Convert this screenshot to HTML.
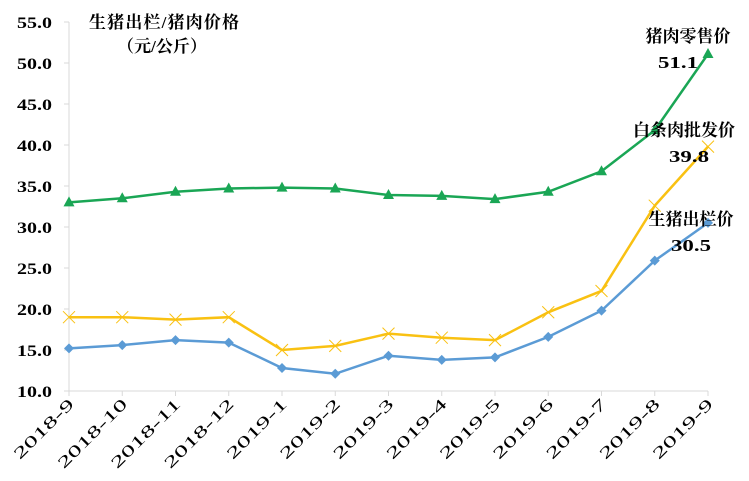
<!DOCTYPE html>
<html><head><meta charset="utf-8">
<style>
body{margin:0;background:#fff;}
svg text{font-family:"Liberation Serif","Noto Serif CJK SC",serif;font-weight:bold;fill:#000;}
</style></head>
<body>
<svg id="chart" width="749" height="476" xmlns="http://www.w3.org/2000/svg">
<g id="axes"></g>
<g id="series"></g>
<text x="164" y="28" font-size="17" text-anchor="middle" textLength="150">生猪出栏/猪肉价格</text>
<text x="162" y="52" font-size="17" text-anchor="middle">（元/公斤）</text>
<text x="688" y="42" font-size="17" text-anchor="middle">猪肉零售价</text>
<text x="678" y="68" font-size="17" text-anchor="middle" textLength="40" lengthAdjust="spacingAndGlyphs">51.1</text>
<text x="684" y="136" font-size="17" text-anchor="middle">白条肉批发价</text>
<text x="689" y="162" font-size="17" text-anchor="middle" textLength="40" lengthAdjust="spacingAndGlyphs">39.8</text>
<text x="691" y="225" font-size="17" text-anchor="middle">生猪出栏价</text>
<text x="691" y="251" font-size="17" text-anchor="middle" textLength="40" lengthAdjust="spacingAndGlyphs">30.5</text>
</svg>
<script>
const categories=["2018-9","2018-10","2018-11","2018-12","2019-1","2019-2","2019-3","2019-4","2019-5","2019-6","2019-7","2019-8","2019-9"];
const retail=[33.0,33.5,34.3,34.7,34.8,34.7,33.9,33.8,33.4,34.3,36.8,41.8,51.1];
const wholesale=[19.0,19.0,18.7,19.0,15.0,15.5,17.0,16.5,16.2,19.6,22.2,32.6,39.8];
const liveHog=[15.2,15.6,16.2,15.9,12.8,12.1,14.3,13.8,14.1,16.6,19.8,25.9,30.5];
const yTicks=[10,15,20,25,30,35,40,45,50,55];
const yTickLabels=["10.0","15.0","20.0","25.0","30.0","35.0","40.0","45.0","50.0","55.0"];

const NS="http://www.w3.org/2000/svg";
const x0=69,x1=708,yTop=22,yBot=391,yMin=10,yMax=55;
const xs=i=>x0+(x1-x0)*i/(categories.length-1);
const ys=v=>yBot-(v-yMin)/(yMax-yMin)*(yBot-yTop);
function mk(tag,attrs,parent){const e=document.createElementNS(NS,tag);for(const k in attrs)e.setAttribute(k,attrs[k]);parent.appendChild(e);return e;}
const axes=document.getElementById('axes'),series=document.getElementById('series');

let ax=mk('line',{x1:x0,y1:yTop,x2:x0,y2:yBot,stroke:'#d9d9d9','stroke-width':1},axes);


let bx=mk('line',{x1:x0,y1:yBot,x2:x1,y2:yBot,stroke:'#d9d9d9','stroke-width':1},axes);


yTicks.forEach((v,i)=>{
  const t=mk('line',{x1:x0-5,y1:ys(v),x2:x0,y2:ys(v),stroke:'#d9d9d9'},axes);
  
  
  const l=mk('text',{x:52,y:ys(v)+6,'font-size':16,'text-anchor':'end',textLength:35,lengthAdjust:'spacingAndGlyphs'},axes);
  l.textContent=yTickLabels[i];
  
  
});
categories.forEach((c,i)=>{
  const t=mk('line',{x1:xs(i),y1:yBot,x2:xs(i),y2:yBot+5,stroke:'#d9d9d9'},axes);
  
  
  const X=xs(i)+6,Y=yBot+14;
  const l=mk('text',{x:X,y:Y,'font-size':16,'font-weight':'normal','text-anchor':'end',textLength:c.length*13,lengthAdjust:'spacingAndGlyphs',transform:`rotate(-45 ${X} ${Y})`},axes);
  l.style.fontWeight='normal';
  l.textContent=c;
  
  
});

function drawSeries(vals,color,marker,name){
  const pts=vals.map((v,i)=>xs(i)+','+ys(v)).join(' ');
  const p=mk('polyline',{points:pts,fill:'none',stroke:color,'stroke-width':2.5},series);
  
  
  vals.forEach((v,i)=>{
    const x=xs(i),y=ys(v);let m;
    if(marker==='tri')m=mk('polygon',{points:`${x},${y-6} ${x-5.5},${y+4} ${x+5.5},${y+4}`,fill:color},series);
    else if(marker==='dia')m=mk('polygon',{points:`${x},${y-5} ${x+5},${y} ${x},${y+5} ${x-5},${y}`,fill:color},series);
    else m=mk('path',{d:`M${x-6},${y-6}L${x+6},${y+6}M${x+6},${y-6}L${x-6},${y+6}`,stroke:color,'stroke-width':1,fill:'none'},series);
    
    
  });
}
drawSeries(retail,'#1aa655','tri','retail');
drawSeries(wholesale,'#f9c112','x','wholesale');
drawSeries(liveHog,'#5b9bd5','dia','live-hog');
</script>
</body></html>
